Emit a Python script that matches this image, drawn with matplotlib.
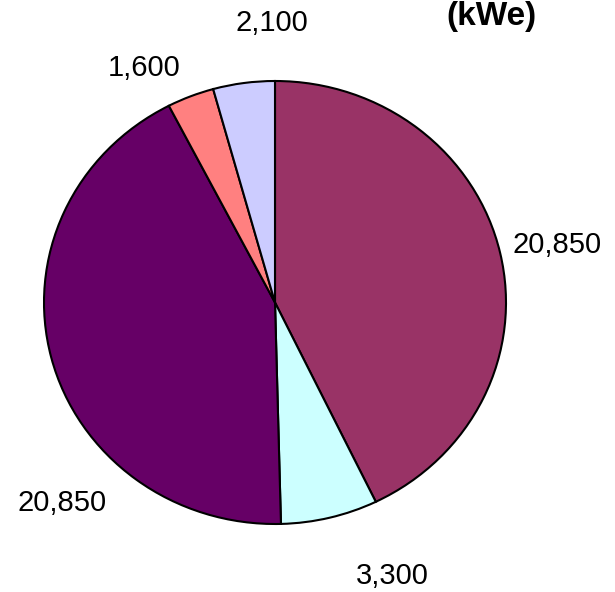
import matplotlib.pyplot as plt

plt.rcParams['font.family'] = ['Liberation Sans', 'DejaVu Sans']

# capacity values (kWe), clockwise from 12 o'clock
values = [20850, 3300, 20850, 1600, 2100]
value_labels = ["20,850", "3,300", "20,850", "1,600", "2,100"]
colors = ["#993366", "#CCFFFF", "#660066", "#FF8080", "#CCCCFF"]

# label positions in pie units (radius = 1)
label_pos = [(1.221, 0.260), (0.509, -1.235), (-0.922, -0.905),
             (-0.567, 1.059), (-0.015, 1.262)]

fig = plt.figure(figsize=(6.15, 5.92), dpi=100)
ax = fig.add_axes([0, 0, 1, 1])

ax.pie(values, colors=colors, startangle=90, counterclock=False,
       wedgeprops=dict(edgecolor="black", linewidth=1.5))

for (x, y), txt in zip(label_pos, value_labels):
    ax.text(x, y, txt, ha="center", va="center", fontsize=21)

ax.text(0.939, 1.293, "(kWe)", ha="center", va="center",
        fontsize=24, fontweight="bold")

# pie centred at ~(275, 302) px, slightly wider than tall like the original
ax.set_aspect("auto")
ax.set_xlim(-275 / 231, (615 - 275) / 231)
ax.set_ylim(-(592 - 302.5) / 221.5, 302.5 / 221.5)
ax.axis("off")

plt.savefig("out.png", dpi=100)
